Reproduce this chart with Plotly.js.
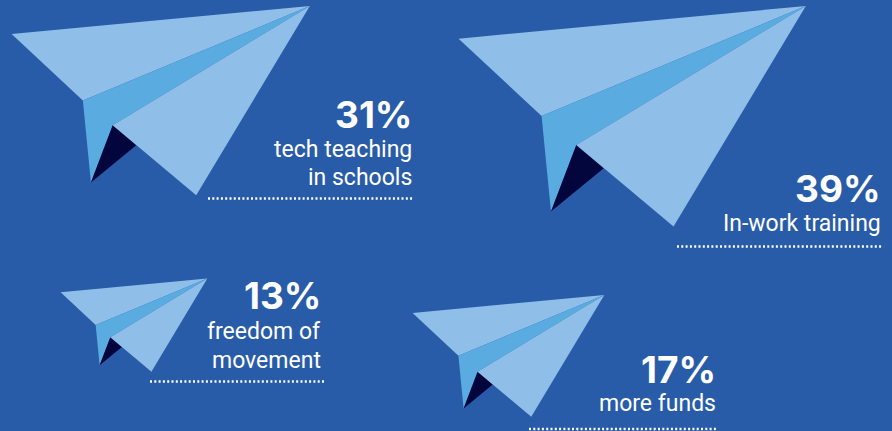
<!DOCTYPE html>
<html><head><meta charset="utf-8">
<script src="https://cdn.plot.ly/plotly-3.0.1.min.js"></script>
<style>html,body{margin:0;padding:0;background:#285CA8}#c{width:892px;height:431px}</style>
</head><body><div id="c"></div>
<script>
const categories = ["tech teaching|in schools","In-work training","freedom of|movement","more funds"];
const shares = [31,39,13,17];

// layout of each item on the page, in pixels
const tipX = [309.8,805.8,207.3,604.3];
const tipY = [6,6,278.5,295];
const spans = [298.2,347.2,146.7,191.7];
const textRight = [414,883,323,718];
const pctY = [114,188,295,369];
const lineY = [[149,177],[223],[331,360],[403]];
const ruleX = [[208,414],[677,883],[150,324],[529,718]];
const ruleY = [198.5,246.5,381.5,429];

// plane outline as fractions of the wing span, measured from the nose
const left=[-1,.094], fold=[-.761,.317], tail=[-.734,.592], inner=[-.661,.4], notch=[-.582,.467], bottom=[-.381,.635], nose=[0,0];
const facets=[
 {pts:[nose,left,fold],color:"#8FBFE8"},
 {pts:[nose,fold,tail,inner],color:"#5AACE0"},
 {pts:[inner,tail,notch],color:"#02063C"},
 {pts:[nose,inner,bottom],color:"#8FBFE8"}
];

const traces=[], annotations=[];
const FONT="Roboto, sans-serif";
shares.forEach((v,i)=>{
  facets.forEach(f=>{
    const xs=f.pts.map(p=>tipX[i]+p[0]*spans[i]), ys=f.pts.map(p=>tipY[i]+p[1]*spans[i]);
    traces.push({type:"scatter",mode:"lines",x:[...xs,xs[0]],y:[...ys,ys[0]],fill:"toself",fillcolor:f.color,line:{width:0,color:f.color},hoverinfo:"skip"});
  });
  traces.push({type:"scatter",mode:"lines",x:ruleX[i],y:[ruleY[i],ruleY[i]],line:{color:"#FFFFFF",width:2.5,dash:"2px,2.3px"},hoverinfo:"skip"});
  annotations.push({x:textRight[i],y:pctY[i],xref:"x",yref:"y",xanchor:"right",yanchor:"middle",showarrow:false,text:"<b>"+v+"%</b>",font:{family:"Inter, sans-serif",size:37,color:"#FFFFFF",weight:800}});
  categories[i].split("|").forEach((t,j)=>{
    annotations.push({x:textRight[i],y:lineY[i][j],xref:"x",yref:"y",xanchor:"right",yanchor:"middle",showarrow:false,text:t,font:{family:FONT,size:23,color:"#FFFFFF"}});
  });
});
Plotly.newPlot("c",traces,{
  width:892,height:431,margin:{l:0,r:0,t:0,b:0},showlegend:false,
  paper_bgcolor:"#285CA8",plot_bgcolor:"#285CA8",
  xaxis:{range:[0,892],visible:false,fixedrange:true},
  yaxis:{range:[431,0],visible:false,fixedrange:true},
  annotations
},{displayModeBar:false,staticPlot:true});
</script></body></html>
